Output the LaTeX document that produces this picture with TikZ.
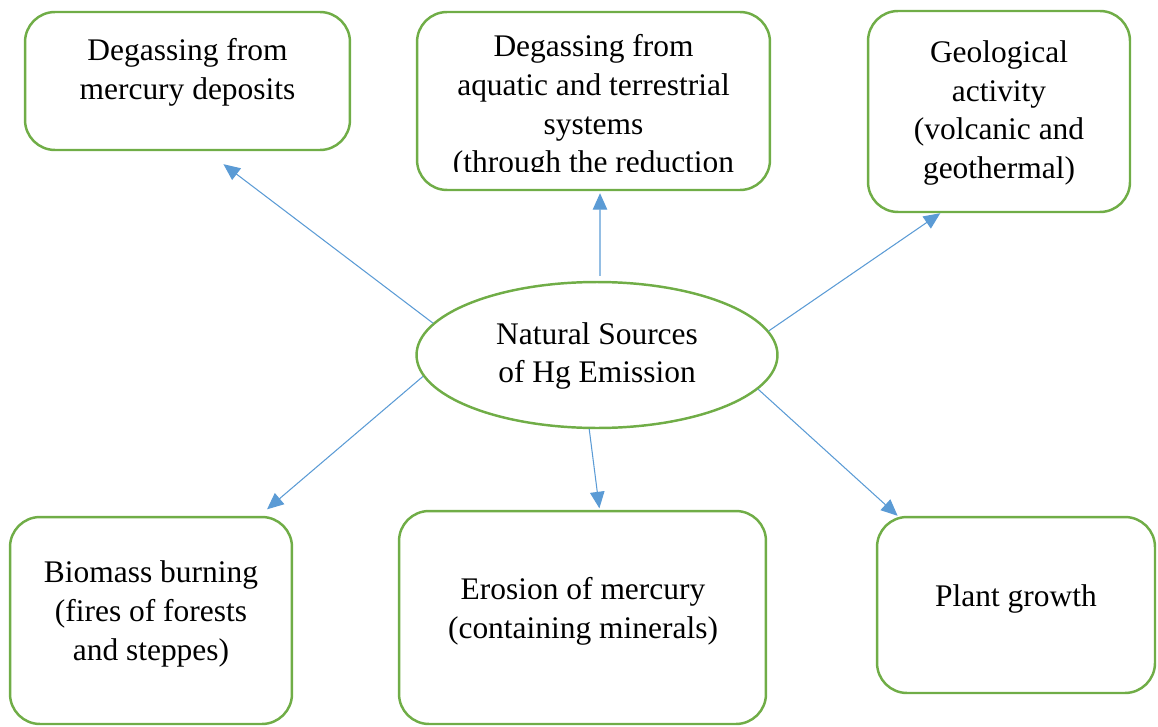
\documentclass[tikz,border=0pt]{standalone}
\usepackage{fontspec}
\setmainfont{Liberation Serif}
\usetikzlibrary{arrows.meta,shapes.geometric}
\definecolor{boxgreen}{HTML}{70AD47}
\definecolor{arrowblue}{HTML}{5B9BD5}
\tikzset{
	srcbox/.style={draw=boxgreen, line width=1.4pt, rounded corners=0.6cm, inner sep=0pt},
	srcellipse/.style={draw=boxgreen, line width=1.4pt, ellipse, inner sep=0pt, minimum width=7.22cm, minimum height=2.92cm},
	srctext/.style={align=center, inner sep=0pt, font=\fontsize{17.9}{22.1}\selectfont},
	arr/.style={draw=arrowblue, line width=0.6pt, -{Triangle[length=0.33cm,width=0.29cm]}}
}

\begin{document}
\begin{tikzpicture}[x=0.02cm,y=-0.02cm]
				\useasboundingbox (0,0) rectangle (1158,726);
				
				\node[srcbox, minimum width=6.5cm, minimum height=2.76cm] (deposits) at (187.5,81) {};
				\node[srctext] (depositstext) at (187.5,72) {Degassing from\\mercury deposits};
				
				\node[srcbox, minimum width=7.06cm, minimum height=3.56cm] (aquatic) at (593.5,101) {};
				\begin{scope}
					\clip (417,12) rectangle (770,172);
					\node[srctext] (aquatictext) at (593.5,107) {Degassing from\\aquatic and terrestrial\\systems\\(through the reduction};
				\end{scope}
				
				\node[srcbox, minimum width=5.24cm, minimum height=4.02cm] (geological) at (999,111.5) {};
				\node[srctext] (geologicaltext) at (999,113) {Geological\\activity\\(volcanic and\\geothermal)};
				
				\node[srcellipse] (natural) at (597,355) {};
				\node[srctext] (naturaltext) at (597,356) {Natural Sources\\of Hg Emission};
				
				\node[srcbox, minimum width=5.64cm, minimum height=4.14cm] (biomass) at (151,620.5) {};
				\node[srctext] (biomasstext) at (151,614) {Biomass burning\\(fires of forests\\and steppes)};
				
				\node[srcbox, minimum width=7.34cm, minimum height=4.26cm] (erosion) at (582.5,617.5) {};
				\node[srctext] (erosiontext) at (583,611) {Erosion of mercury\\(containing minerals)};
				
				\node[srcbox, minimum width=5.56cm, minimum height=3.52cm] (plant) at (1016,605) {};
				\node[srctext] (planttext) at (1016,599) {Plant growth};
				
				\draw[arr, shorten >=0.43cm] (natural.169) -- (deposits.-75.8);
				\draw[arr] ([xshift=0.06cm,yshift=0.1cm]natural.north) -- ([xshift=0.13cm,yshift=-0.04cm]aquatic.south);
				\draw[arr] (natural.8.8) -- (geological.-120.4);
				\draw[arr, shorten >=0.2cm] (natural.187) -- (biomass.44.9);
				\draw[arr, shorten >=0.03cm] (natural.-96) -- (erosion.81.7);
				\draw[arr] (natural.-12.7) -- (plant.143.1);
\end{tikzpicture}
\end{document}
